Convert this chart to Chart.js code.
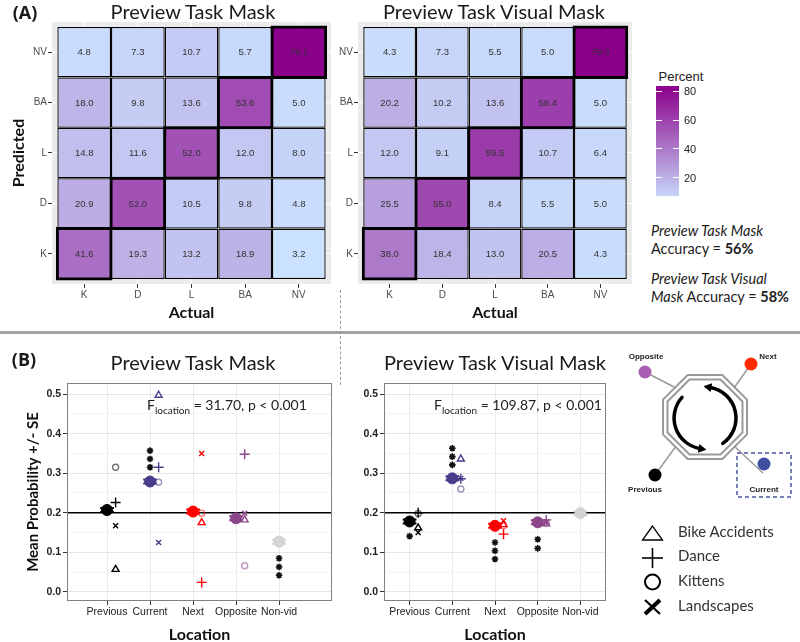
<!DOCTYPE html>
<html>
<head>
<meta charset="utf-8">
<title>Preview Task Mask / Preview Task Visual Mask</title>
<script src="https://cdn.jsdelivr.net/npm/chart.js@4.4.1/dist/chart.umd.min.js"></script>
<style>
  body { margin: 0; background: #fff; }
  #fig { position: relative; width: 800px; height: 642px; overflow: hidden; font-family: Lato, "Open Sans", sans-serif; color: #1a1a1a; }
  #fig canvas { position: absolute; }
  .lbl { position: absolute; white-space: nowrap; transform: translate(-50%, -50%); }
  .lbl.left { transform: translate(0, -50%); }
  .ttl { font-size: 20px; }
  .tag { font-family: "Open Sans", sans-serif; font-weight: bold; font-size: 18px; }
  .ann { font-size: 14px; color: #222; }
  .ann sub { font-size: 10px; vertical-align: -4px; }
  .acc { font-size: 14.5px; color: #222; }
  .cb { font-family: "Liberation Sans", Arial, sans-serif; font-size: 11px; color: #222; }
  #diagram { position: absolute; left: 0; top: 0; pointer-events: none; }
</style>
</head>
<body>
<div id="fig">
  <canvas id="heatMask" width="340" height="322" style="left:0;top:0"></canvas>
  <canvas id="heatVisual" width="305" height="322" style="left:335px;top:0"></canvas>
  <canvas id="probMask" width="340" height="302" style="left:0;top:340px"></canvas>
  <canvas id="probVisual" width="300" height="302" style="left:340px;top:340px"></canvas>

  <div class="lbl tag" style="left:25px;top:12px">(A)</div>
  <div class="lbl tag" style="left:24px;top:359px">(B)</div>
  <div class="lbl ttl" style="left:193px;top:11px">Preview Task Mask</div>
  <div class="lbl ttl" style="left:494px;top:11px">Preview Task Visual Mask</div>
  <div class="lbl ttl" style="left:193px;top:362px">Preview Task Mask</div>
  <div class="lbl ttl" style="left:495px;top:362px">Preview Task Visual Mask</div>

  <div id="annMask" class="lbl left ann" style="left:147px;top:406px"></div>
  <div id="annVisual" class="lbl left ann" style="left:434px;top:406px"></div>

  <div style="position:absolute;left:0;top:331px;width:800px;height:3px;background:#a3a3a3"></div>
  <div style="position:absolute;left:340px;top:290px;height:95px;border-left:1px dashed #9a9a9a"></div>

  <div class="lbl cb" style="left:681px;top:76px;font-size:13px">Percent</div>
  <div id="cbar" style="position:absolute;left:656px;top:86px;width:23px;height:110px"></div>

  <div class="lbl left acc" style="left:651px;top:230px"><i>Preview Task Mask</i></div>
  <div class="lbl left acc" style="left:651px;top:248px">Accuracy = <b>56%</b></div>
  <div class="lbl left acc" style="left:651px;top:278px"><i>Preview Task Visual</i></div>
  <div class="lbl left acc" style="left:651px;top:296px"><i>Mask</i> Accuracy = <b>58%</b></div>

  <svg id="diagram" width="800" height="642">
    <g fill="none" stroke="#9a9a9a" stroke-width="2">
      <polygon id="octOuter"></polygon>
      <polygon id="octInner"></polygon>
    </g>
    <g stroke="#9a9a9a" stroke-width="1.5">
      <line x1="676" y1="388" x2="645" y2="372"></line>
      <line x1="734" y1="388" x2="751" y2="364"></line>
      <line x1="676" y1="446" x2="655" y2="475"></line>
      <line x1="734" y1="446" x2="763" y2="473"></line>
    </g>
    <g fill="none" stroke="#000" stroke-width="3.5" stroke-linecap="round">
      <path d="M682.0,397.3 A31,31 0 0 0 699.6,448.5"></path>
      <path d="M722.8,443.4 A31,31 0 0 0 710.4,387.5"></path>
    </g>
    <polygon points="706.5,449.7 697.8,452.7 699.4,443.9" fill="#000"></polygon>
    <polygon points="703.5,386.3 712.2,383.3 710.6,392.1" fill="#000"></polygon>
    <circle cx="645" cy="372" r="6.5" fill="#a95db3"></circle>
    <circle cx="751" cy="364" r="6.5" fill="#ff2a00"></circle>
    <circle cx="655" cy="475" r="6.5" fill="#000"></circle>
    <circle cx="764" cy="464" r="6.5" fill="#3f4f9f"></circle>
    <rect x="737" y="453" width="54" height="44" fill="none" stroke="#4a55a2" stroke-width="1.5" stroke-dasharray="4 3"></rect>
    <g font-family="Liberation Sans, Arial, sans-serif" font-weight="bold" font-size="8" fill="#222" text-anchor="middle" dominant-baseline="middle">
      <text x="646" y="357">Opposite</text>
      <text x="768" y="357">Next</text>
      <text x="645" y="490">Previous</text>
      <text x="764" y="490">Current</text>
    </g>
    <g fill="none" stroke="#000">
      <polygon points="652.5,526 642.5,540 662.5,540" stroke-width="1.3"></polygon>
      <line x1="642" y1="558" x2="663" y2="558" stroke-width="1.6"></line>
      <line x1="652.5" y1="548" x2="652.5" y2="568" stroke-width="1.6"></line>
      <circle cx="652.5" cy="582" r="7.5" stroke-width="2"></circle>
      <line x1="645" y1="600" x2="660" y2="614" stroke-width="2.2"></line>
      <line x1="645" y1="614" x2="660" y2="600" stroke-width="4"></line>
    </g>
    <g id="stimLegend" font-family="Lato, sans-serif" font-size="15" fill="#333" dominant-baseline="middle"></g>
  </svg>
</div>

<script>
// ---------- data ----------
const cellLabels = ["K", "D", "L", "BA", "NV"];   // Actual (x) and Predicted (y, bottom to top)

// confusion matrices, rows = Predicted K, D, L, BA, NV; columns = Actual K, D, L, BA, NV
const maskMatrix = [
  [41.6, 19.3, 13.2, 18.9, 3.2],
  [20.9, 52.0, 10.5, 9.8, 4.8],
  [14.8, 11.6, 52.0, 12.0, 8.0],
  [18.0, 9.8, 13.6, 53.6, 5.0],
  [4.8, 7.3, 10.7, 5.7, 79.1]
];
const visualMatrix = [
  [38.0, 18.4, 13.0, 20.5, 4.3],
  [25.5, 55.0, 8.4, 5.5, 5.0],
  [12.0, 9.1, 59.5, 10.7, 6.4],
  [20.2, 10.2, 13.6, 58.4, 5.0],
  [4.3, 7.3, 5.5, 5.0, 79.3]
];
const legendTicks = [20, 40, 60, 80];

const locations = ["Previous", "Current", "Next", "Opposite", "Non-vid"];
const locationColors = ["#000000", "#483d8b", "#ff0000", "#8b4789", "#d3d3d3"];
const stimuli = ["Bike Accidents", "Dance", "Kittens", "Landscapes"];
const probTicks = [0.0, 0.1, 0.2, 0.3, 0.4, 0.5];
const chanceLevel = 0.2;

// Preview Task Mask
const maskMeans = [0.207, 0.279, 0.203, 0.186, 0.127];
const maskSE = [0.005, 0.005, 0.005, 0.005, 0.005];
const maskBike = [0.057, 0.497, 0.175, 0.182, null];
const maskDance = [0.226, 0.315, 0.024, 0.348, null];
const maskKittens = [0.315, 0.277, 0.199, 0.066, null];
const maskLandscapes = [0.167, 0.125, 0.350, 0.199, null];
const maskStars = [[], [0.357, 0.336, 0.315], [], [], [0.085, 0.063, 0.042]];
const maskF = 31.70;

// Preview Task Visual Mask
const visualMeans = [0.178, 0.287, 0.167, 0.176, 0.199];
const visualSE = [0.005, 0.005, 0.005, 0.005, 0.005];
const visualBike = [0.162, 0.336, 0.170, 0.172, null];
const visualDance = [0.200, 0.286, 0.146, 0.182, null];
const visualKittens = [0.198, 0.260, 0.167, 0.174, null];
const visualLandscapes = [0.150, 0.287, 0.180, 0.176, null];
const visualStars = [[0.141], [0.363, 0.342, 0.321], [0.125, 0.104, 0.083], [0.133, 0.110], []];
const visualF = 109.87;

// ---------- helpers ----------
const heatMin = 3.2, heatMax = 79.3;
const lowColor = [202, 225, 255], highColor = [139, 0, 139];
function heatColor(v) {
  let t = (v - heatMin) / (heatMax - heatMin);
  t = Math.max(0, Math.min(1, t));
  const c = lowColor.map((l, i) => Math.round(l + (highColor[i] - l) * t));
  return "rgb(" + c.join(",") + ")";
}
function withAlpha(hex, a) {
  const n = parseInt(hex.slice(1), 16);
  return "rgba(" + (n >> 16) + "," + ((n >> 8) & 255) + "," + (n & 255) + "," + a + ")";
}

Chart.defaults.animation = false;
Chart.defaults.font.family = "'Liberation Sans', Arial, sans-serif";

// ---------- heatmaps ----------
const cellTicks = cellLabels.map((_, i) => i + 0.5);

const panelBg = {
  id: "panelBg",
  beforeDraw(chart) {
    const { ctx, chartArea: a } = chart;
    ctx.save();
    ctx.fillStyle = "#ebebeb";
    ctx.fillRect(a.left, a.top, a.right - a.left, a.bottom - a.top);
    ctx.restore();
  }
};

const cellText = {
  id: "cellText",
  afterDatasetsDraw(chart) {
    const ctx = chart.ctx;
    const data = chart.data.datasets[0].data;
    ctx.save();
    ctx.font = "9.5px 'Liberation Sans', Arial, sans-serif";
    ctx.fillStyle = "#333";
    ctx.textAlign = "center";
    ctx.textBaseline = "middle";
    chart.getDatasetMeta(0).data.forEach((bar, i) => {
      const p = bar.getProps(["x", "y", "base"], true);
      ctx.fillText(data[i].v.toFixed(1), p.x, (p.y + p.base) / 2 + 0.5);
    });
    ctx.restore();
  }
};

function heatmap(id, matrix, yWidth, padRight, showYTitle) {
  let cells = [], diag = [];
  matrix.forEach((row, r) => {
    row.forEach((v, c) => {
      const cell = { x: c + 0.5, y: [r, r + 1], v: v, diag: r === c };
      if (r === c) diag.push(cell); else cells.push(cell);
    });
  });

  return new Chart(document.getElementById(id), {
    type: "bar",
    data: {
      datasets: [{
        data: cells.concat(diag),
        backgroundColor: c => c.raw ? heatColor(c.raw.v) : "#ccc",
        borderColor: "#000",
        borderWidth: c => (c.raw && c.raw.diag) ? 3 : 1.3,
        inflateAmount: c => (c.raw && c.raw.diag) ? 1.5 : 0,
        borderSkipped: false,
        barPercentage: 1,
        categoryPercentage: 1
      }]
    },
    options: {
      responsive: false,
      layout: { padding: { top: 22, right: padRight, left: 0, bottom: 0 } },
      plugins: { legend: { display: false }, tooltip: { enabled: false } },
      scales: {
        x: {
          type: "linear", min: -0.1, max: 5.1, offset: false,
          afterBuildTicks: ax => { ax.ticks = cellTicks.map(v => ({ value: v })); },
          afterFit: ax => { ax.height = 38; },
          ticks: { callback: (v, i) => cellLabels[i], autoSkip: false, maxRotation: 0, padding: 1, color: "#4d4d4d", font: { size: 10 } },
          grid: { offset: false, color: "#fff", tickColor: "#333", tickLength: 4 },
          border: { display: false },
          title: { display: true, text: "Actual", color: "#111", font: { family: "Lato", weight: "bold", size: 16 }, padding: { top: 0, bottom: 0 } }
        },
        y: {
          type: "linear", min: -0.1, max: 5.1,
          afterBuildTicks: ax => { ax.ticks = cellTicks.map(v => ({ value: v })); },
          afterFit: ax => { ax.width = yWidth; },
          ticks: { callback: (v, i) => cellLabels[i], autoSkip: false, padding: 1, color: "#4d4d4d", font: { size: 10 } },
          grid: { color: "#fff", tickColor: "#333", tickLength: 4 },
          border: { display: false },
          title: { display: showYTitle, text: "Predicted", color: "#111", font: { family: "Lato", weight: "bold", size: 16 }, padding: { top: 9, bottom: 0 } }
        }
      }
    },
    plugins: [panelBg, cellText]
  });
}

heatmap("heatMask", maskMatrix, 52, 9, true);
heatmap("heatVisual", visualMatrix, 23, 8, false);

// colour bar legend
const cbLo = 7.5, cbHi = 83.5;
const cbar = document.getElementById("cbar");
cbar.style.background = "linear-gradient(to top, " + heatColor(cbLo) + ", " + heatColor(cbHi) + ")";
legendTicks.forEach(v => {
  const y = 86 + (cbHi - v) / (cbHi - cbLo) * 110;
  const lab = document.createElement("div");
  lab.className = "lbl left cb";
  lab.style.left = "684px";
  lab.style.top = y + "px";
  lab.textContent = v;
  document.getElementById("fig").appendChild(lab);
  [656, 673].forEach(x => {
    const t = document.createElement("div");
    t.style.cssText = "position:absolute;left:" + x + "px;top:" + (y - 0.5) + "px;width:6px;height:1px;background:#fff";
    document.getElementById("fig").appendChild(t);
  });
});

// ---------- probability charts ----------
const stimOffset = 0.2;
const capHalf = 0.16;

function probTickObjs() {
  const out = [];
  probTicks.forEach((v, i) => {
    out.push({ value: v, isMain: true });
    if (i < probTicks.length - 1) out.push({ value: (v + probTicks[i + 1]) / 2, isMain: false });
  });
  return out;
}

function decor(means, se) {
  return {
    id: "decor",
    beforeDatasetsDraw(chart) {
      const { ctx, chartArea: a, scales: { x, y } } = chart;
      ctx.save();
      const yc = y.getPixelForValue(chanceLevel);
      ctx.strokeStyle = "#000";
      ctx.lineWidth = 1.3;
      ctx.beginPath();
      ctx.moveTo(a.left, yc);
      ctx.lineTo(a.right, yc);
      ctx.stroke();
      means.forEach((m, i) => {
        const px = x.getPixelForValue(i + 1);
        const w = x.getPixelForValue(i + 1 + capHalf) - px;
        const y1 = y.getPixelForValue(m - se[i]), y2 = y.getPixelForValue(m + se[i]);
        ctx.strokeStyle = locationColors[i];
        ctx.lineWidth = 2;
        ctx.beginPath();
        ctx.moveTo(px - w, y1); ctx.lineTo(px + w, y1);
        ctx.moveTo(px - w, y2); ctx.lineTo(px + w, y2);
        ctx.moveTo(px, y1); ctx.lineTo(px, y2);
        ctx.stroke();
      });
      ctx.restore();
    },
    afterDraw(chart) {
      const { ctx, chartArea: a } = chart;
      ctx.save();
      ctx.strokeStyle = "#808080";
      ctx.lineWidth = 1;
      ctx.strokeRect(a.left + 0.5, a.top + 0.5, a.right - a.left - 1, a.bottom - a.top - 1);
      ctx.restore();
    }
  };
}

function probChart(id, s) {
  const stimSets = [
    { vals: s.bike, style: "triangle", r: 4, alpha: 1 },
    { vals: s.dance, style: "cross", r: 5, alpha: 1 },
    { vals: s.kittens, style: "circle", r: 3, alpha: 0.55 },
    { vals: s.land, style: "crossRot", r: 3.5, alpha: 1 }
  ];
  const datasets = [{
    label: "Mean",
    data: s.means.map((m, i) => ({ x: i + 1, y: m })),
    pointStyle: "circle",
    pointRadius: 5.5,
    backgroundColor: locationColors,
    borderColor: locationColors,
    borderWidth: 1
  }];
  stimSets.forEach((st, k) => {
    const pts = [];
    st.vals.forEach((v, i) => { if (v !== null) pts.push({ x: i + 1 + stimOffset, y: v, loc: i }); });
    datasets.push({
      label: stimuli[k],
      data: pts,
      pointStyle: st.style,
      pointRadius: st.r,
      backgroundColor: "rgba(0,0,0,0)",
      borderColor: c => c.raw ? withAlpha(locationColors[c.raw.loc], st.alpha) : "#000",
      borderWidth: 1.4
    });
  });
  const stars = [];
  s.stars.forEach((list, i) => list.forEach(v => stars.push({ x: i + 1, y: v })));
  datasets.push({
    label: "p < 0.001",
    data: stars,
    pointStyle: "star",
    pointRadius: 3.3,
    backgroundColor: "#111",
    borderColor: "#111",
    borderWidth: 1.6
  });

  return new Chart(document.getElementById(id), {
    type: "scatter",
    data: { datasets: datasets },
    options: {
      responsive: false,
      layout: { padding: { top: 43, right: s.padRight, left: 0, bottom: 0 } },
      plugins: { legend: { display: false }, tooltip: { enabled: false } },
      scales: {
        x: {
          type: "linear", min: s.xMin, max: s.xMax,
          afterBuildTicks: ax => { ax.ticks = locations.map((_, i) => ({ value: i + 1 })); },
          afterFit: ax => { ax.height = 41; },
          ticks: { callback: (v, i) => locations[i], autoSkip: false, maxRotation: 0, padding: 1, color: "#222", font: { size: 10.5 } },
          grid: { color: "#ebebeb", tickColor: "#333", tickLength: 4 },
          border: { display: false },
          title: { display: true, text: "Location", color: "#111", font: { family: "Lato", weight: "bold", size: 16, lineHeight: 0.9 }, padding: { top: 0, bottom: 0 } }
        },
        y: {
          type: "linear", min: -0.023, max: 0.528,
          afterBuildTicks: ax => { ax.ticks = probTickObjs(); },
          afterFit: ax => { ax.width = s.yWidth; },
          ticks: { callback: (v, i, t) => t[i].isMain ? v.toFixed(1) : "", padding: 2, color: "#222", font: { size: 10.5, weight: "bold" } },
          grid: {
            color: c => (c.tick && c.tick.isMain) ? "#e6e6e6" : "#f4f4f4",
            tickColor: c => (c.tick && c.tick.isMain) ? "#333" : "rgba(0,0,0,0)",
            tickLength: 4
          },
          border: { display: false },
          title: { display: s.yTitle, text: "Mean Probability +/- SE", color: "#111", font: { family: "Lato", weight: "bold", size: 15 }, padding: { top: 24, bottom: 0 } }
        }
      }
    },
    plugins: [decor(s.means, s.se)]
  });
}

probChart("probMask", {
  means: maskMeans, se: maskSE, bike: maskBike, dance: maskDance, kittens: maskKittens, land: maskLandscapes,
  stars: maskStars, xMin: 0.07, xMax: 6.23, yWidth: 67, padRight: 8, yTitle: true
});
probChart("probVisual", {
  means: visualMeans, se: visualSE, bike: visualBike, dance: visualDance, kittens: visualKittens, land: visualLandscapes,
  stars: visualStars, xMin: 0.4, xMax: 5.6, yWidth: 44, padRight: 34, yTitle: false
});

document.getElementById("annMask").innerHTML = "F<sub>location</sub> = " + maskF.toFixed(2) + ", p &lt; 0.001";
document.getElementById("annVisual").innerHTML = "F<sub>location</sub> = " + visualF.toFixed(2) + ", p &lt; 0.001";

// ---------- diagram ----------
function octagon(cx, cy, h) {
  const R = h / Math.cos(Math.PI / 8);
  const pts = [];
  for (let k = 0; k < 8; k++) {
    const a = Math.PI / 8 + k * Math.PI / 4;
    pts.push((cx + R * Math.cos(a)).toFixed(1) + "," + (cy + R * Math.sin(a)).toFixed(1));
  }
  return pts.join(" ");
}
document.getElementById("octOuter").setAttribute("points", octagon(705, 417, 42));
document.getElementById("octInner").setAttribute("points", octagon(705, 417, 37.5));

const legendG = document.getElementById("stimLegend");
stimuli.forEach((name, i) => {
  const t = document.createElementNS("http://www.w3.org/2000/svg", "text");
  t.setAttribute("x", 678);
  t.setAttribute("y", 533 + i * 24.7);
  t.textContent = name;
  legendG.appendChild(t);
});
</script>
</body>
</html>
